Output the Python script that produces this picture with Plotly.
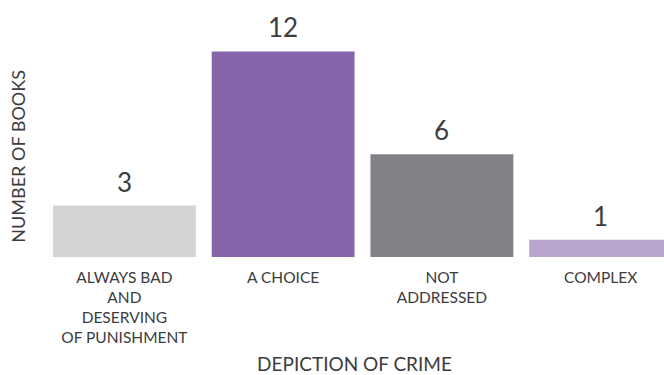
import plotly.graph_objects as go

categories = ["ALWAYS BAD<br>AND<br>DESERVING<br>OF PUNISHMENT", "A CHOICE", "NOT<br>ADDRESSED", "COMPLEX"]
values = [3, 12, 6, 1]
bar_colors = ["#d1d3d4", "#8665ab", "#808285", "#b8a4cc"]

FONT = "Lato, 'Open Sans', sans-serif"
TEXT = "#3c3c3e"

fig = go.Figure()
fig.add_trace(go.Bar(
    x=categories, y=values,
    marker=dict(color=bar_colors, line=dict(width=0)),
    hoverinfo="skip",
))

for c, v in zip(categories, values):
    fig.add_annotation(x=c, y=v, text=str(v), showarrow=False,
                       yanchor="middle", yshift=24,
                       font=dict(family=FONT, size=26, color=TEXT))

# y-axis title
fig.add_annotation(xref="paper", yref="paper", x=-0.043, y=0.392,
                   text="NUMBER OF BOOKS", textangle=-90, showarrow=False,
                   xanchor="center", yanchor="middle",
                   font=dict(family=FONT, size=18, color=TEXT))

fig.update_layout(
    width=664, height=375,
    margin=dict(l=45, r=0, t=0, b=117.5),
    paper_bgcolor="white", plot_bgcolor="white",
    bargap=0.1,
    showlegend=False,
    font=dict(family=FONT, color=TEXT),
    xaxis=dict(
        range=[-0.5, 3.399],
        showgrid=False, zeroline=False, showline=False, ticks="",
        ticklabelstandoff=9,
        tickfont=dict(family=FONT, size=15.5, color=TEXT),
        title=dict(text="DEPICTION OF CRIME", font=dict(family=FONT, size=19, color=TEXT), standoff=14),
        automargin=False,
    ),
    yaxis=dict(
        range=[0, 15.0],
        showgrid=False, zeroline=False, showline=False, ticks="",
        showticklabels=False,
        automargin=False,
    ),
)

fig.write_html("out.html", config={"displayModeBar": False},
               post_script="document.body.style.margin='0';")
